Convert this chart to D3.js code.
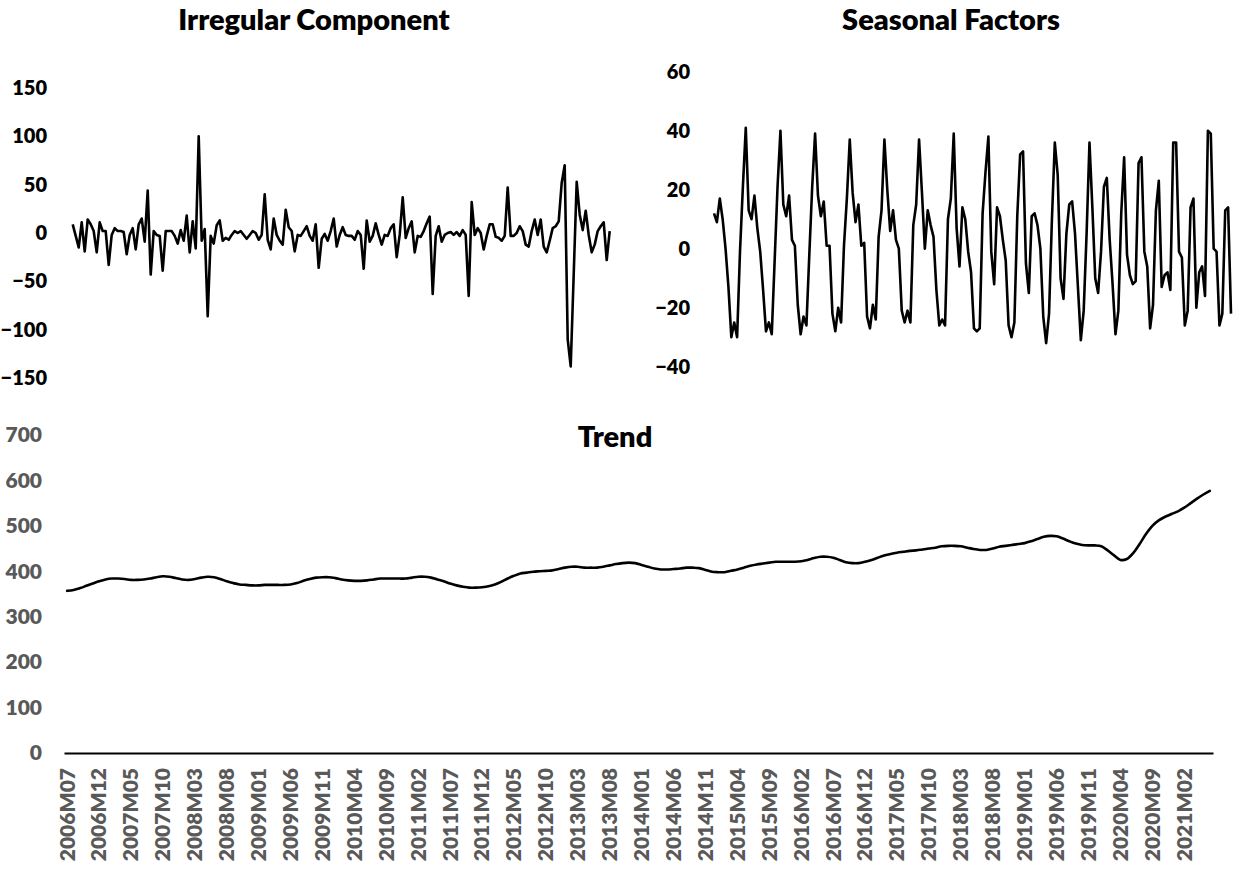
<!DOCTYPE html>
<html>
<head>
<meta charset="utf-8">
<script src="https://cdn.jsdelivr.net/npm/d3@7/dist/d3.min.js"></script>
<style>
  html, body { margin: 0; padding: 0; background: #ffffff; }
  svg { display: block; }
  text { font-family: "Lato", "Open Sans", sans-serif; font-weight: 800; }
</style>
</head>
<body>
<svg id="chart" width="1233" height="869"></svg>
<script>
// Monthly categories, July 2006 through June 2021
const startYear = 2006, startMonth = 7, monthCount = 180;
const months = [];
for (let k = 0; k < monthCount; k++) {
  const m = startMonth - 1 + k;
  const yr = startYear + Math.floor(m / 12);
  const mo = (m % 12) + 1;
  months.push(yr + "M" + String(mo).padStart(2, "0"));
}

// Category labels shown under the trend panel (every fifth month)
const tickLabels = [
  "2006M07","2006M12","2007M05","2007M10","2008M03","2008M08","2009M01","2009M06",
  "2009M11","2010M04","2010M09","2011M02","2011M07","2011M12","2012M05","2012M10",
  "2013M03","2013M08","2014M01","2014M06","2014M11","2015M04","2015M09","2016M02",
  "2016M07","2016M12","2017M05","2017M10","2018M03","2018M08","2019M01","2019M06",
  "2019M11","2020M04","2020M09","2021M02"
];

// Irregular component
const irregular = [
  9, -3, -15, 11, -19, 14, 9, 2, -20, 11, 2, 2,
  -33, -2, 5, 2, 2, 1, -22, -2, 5, -17, 9, 15,
  -9, 44, -43, 2, -2, -3, -39, 2, 2, 2, -3, -11,
  3, -8, 18, -20, 12, -16, 100, -8, 4, -86, -3, -11,
  8, 13, -8, -5, -7, -2, 2, 0, 2, -2, -6, -2,
  2, 0, -7, -2, 40, -7, -17, 15, -2, -8, -12, 24,
  6, 2, -19, -2, -3, 2, 7, -3, -8, 9, -36, -6,
  -1, -8, 2, 15, -14, -2, 6, -2, -3, -3, -7, 2,
  -2, -37, 13, -9, -3, 10, -2, -12, -2, -3, 5, 9,
  -25, -2, 37, -5, 5, 12, -20, -3, -4, 2, 10, 17,
  -63, -3, 7, -9, -2, 0, 1, -2, 1, -3, 3, -2,
  -65, 32, -2, 5, 0, -17, -3, 9, 9, -4, -5, -8,
  -3, 47, -3, -3, 0, 7, 2, -12, -14, 2, 14, -2,
  14, -14, -20, -8, 5, 7, 12, 52, 70, -110, -138, -43,
  53, 19, 3, 23, -2, -20, -12, 2, 7, 11, -28, 2
];

// Seasonal factors
const seasonal = [
  12, 9, 17, 10, 0, -13, -30, -25, -30, -1, 21, 41,
  13, 10, 18, 7, -1, -14, -28, -25, -29, -4, 21, 40,
  15, 11, 18, 3, 1, -19, -29, -23, -26, -2, 21, 39,
  18, 11, 16, 1, 1, -22, -28, -20, -25, 1, 17, 37,
  19, 9, 15, 1, 2, -23, -27, -19, -24, 4, 13, 37,
  20, 6, 13, 3, 0, -21, -25, -21, -25, 8, 15, 37,
  19, 0, 13, 8, 4, -14, -26, -24, -26, 10, 17, 39,
  7, -6, 14, 10, -1, -8, -27, -28, -27, 12, 26, 38,
  -1, -12, 14, 11, 3, -4, -26, -30, -25, 11, 32, 33,
  -5, -15, 11, 12, 8, 0, -23, -32, -22, 10, 36, 25,
  -10, -17, 5, 15, 16, 5, -13, -31, -21, 5, 36, 14,
  -10, -15, -1, 21, 24, 3, -12, -29, -21, 12, 31, -2,
  -9, -12, -11, 29, 31, -1, -6, -27, -19, 13, 23, -13,
  -9, -8, -14, 36, 36, -1, -3, -26, -21, 14, 17, -20,
  -8, -6, -16, 40, 39, 0, -1, -26, -22, 13, 14, -22
];

// Trend
const trend = [
  357, 359, 363, 368, 373, 378, 382, 384, 384, 383, 381, 381,
  382, 384, 387, 389, 388, 385, 382, 381, 383, 386, 388, 387,
  383, 378, 374, 371, 370, 369, 369, 370, 370, 370, 370, 371,
  374, 379, 383, 386, 387, 387, 385, 382, 380, 379, 379, 380,
  382, 384, 384, 384, 384, 384, 386, 388, 388, 386, 382, 378,
  373, 369, 366, 364, 364, 365, 367, 371, 377, 384, 390, 395,
  397, 399, 400, 401, 402, 405, 408, 410, 410, 408, 408, 408,
  410, 413, 416, 418, 419, 418, 414, 410, 406, 404, 404, 405,
  406, 408, 408, 407, 403, 399, 398, 398, 401, 404, 408, 412,
  415, 417, 419, 421, 421, 421, 421, 422, 425, 429, 432, 432,
  430, 425, 420, 418, 418, 421, 425, 430, 435, 438, 441, 443,
  445, 446, 448, 450, 452, 455, 456, 456, 455, 452, 449, 447,
  447, 450, 454, 456, 458, 460, 462, 466, 471, 476, 478, 477,
  472, 466, 461, 458, 457, 457, 455, 446, 435, 425, 427, 440,
  460, 482, 500, 512, 520, 526, 532, 540, 550, 560, 569, 577
];

// Axis tick values
const irregularTicks = [-150, -100, -50, 0, 50, 100, 150];
const seasonalTicks = [-40, -20, 0, 20, 40, 60];
const trendTicks = [0, 100, 200, 300, 400, 500, 600, 700];

const svg = d3.select("#chart");
const black = "#000000";
const gray = "#595959";

function hideDomain(g) { g.select(".domain").remove(); }

function panelTitle(text, x, y) {
  svg.append("text")
    .attr("x", x).attr("y", y)
    .attr("text-anchor", "middle")
    .attr("fill", black)
    .style("font-size", "29px")
    .text(text);
}

// ---------- Irregular component panel ----------
const xIrr = d3.scalePoint().domain(months).range([72.7, 609.7]);
const yIrr = d3.scaleLinear().domain([-150, 150]).range([378, 88]);

svg.append("g")
  .attr("transform", "translate(55,0)")
  .call(d3.axisLeft(yIrr).tickValues(irregularTicks).tickSize(0).tickPadding(8))
  .call(hideDomain)
  .call(g => g.selectAll("text").attr("fill", black).style("font-size", "20px"));

svg.append("path")
  .datum(irregular)
  .attr("fill", "none")
  .attr("stroke", black)
  .attr("stroke-width", 2.6)
  .attr("stroke-linejoin", "round")
  .attr("d", d3.line().x((d, i) => xIrr(months[i])).y(d => yIrr(d)));

panelTitle("Irregular Component", 314, 30);

// ---------- Seasonal factors panel ----------
const xSea = d3.scalePoint().domain(months).range([714, 1231]);
const ySea = d3.scaleLinear().domain([-40, 60]).range([366.7, 71.7]);

svg.append("g")
  .attr("transform", "translate(698,0)")
  .call(d3.axisLeft(ySea).tickValues(seasonalTicks).tickSize(0).tickPadding(8))
  .call(hideDomain)
  .call(g => g.selectAll("text").attr("fill", black).style("font-size", "20px"));

svg.append("path")
  .datum(seasonal)
  .attr("fill", "none")
  .attr("stroke", black)
  .attr("stroke-width", 2.6)
  .attr("stroke-linejoin", "round")
  .attr("d", d3.line().x((d, i) => xSea(months[i])).y(d => ySea(d)));

panelTitle("Seasonal Factors", 951, 30);

// ---------- Trend panel ----------
const xTr = d3.scaleBand().domain(months).range([64, 1213]);
const yTr = d3.scaleLinear().domain([0, 700]).range([753, 435]);

svg.append("g")
  .attr("transform", "translate(50,0)")
  .call(d3.axisLeft(yTr).tickValues(trendTicks).tickSize(0).tickPadding(8))
  .call(hideDomain)
  .call(g => g.selectAll("text").attr("fill", gray).style("font-size", "21px"));

const xAxis = svg.append("g")
  .attr("transform", "translate(0,753)")
  .call(d3.axisBottom(xTr).tickValues(tickLabels).tickSize(0));
xAxis.select(".domain").attr("stroke", black).attr("stroke-width", 2);
xAxis.selectAll("text")
  .attr("fill", gray)
  .style("font-size", "21px")
  .attr("transform", "rotate(-90)")
  .attr("x", -15)
  .attr("y", 0)
  .attr("dy", "0.35em")
  .attr("text-anchor", "end");

svg.append("path")
  .datum(trend)
  .attr("fill", "none")
  .attr("stroke", black)
  .attr("stroke-width", 2.6)
  .attr("stroke-linecap", "round")
  .attr("d", d3.line()
    .x((d, i) => xTr(months[i]) + xTr.bandwidth() / 2)
    .y(d => yTr(d))
    .curve(d3.curveCatmullRom.alpha(0.5)));

panelTitle("Trend", 615, 447);
</script>
</body>
</html>
